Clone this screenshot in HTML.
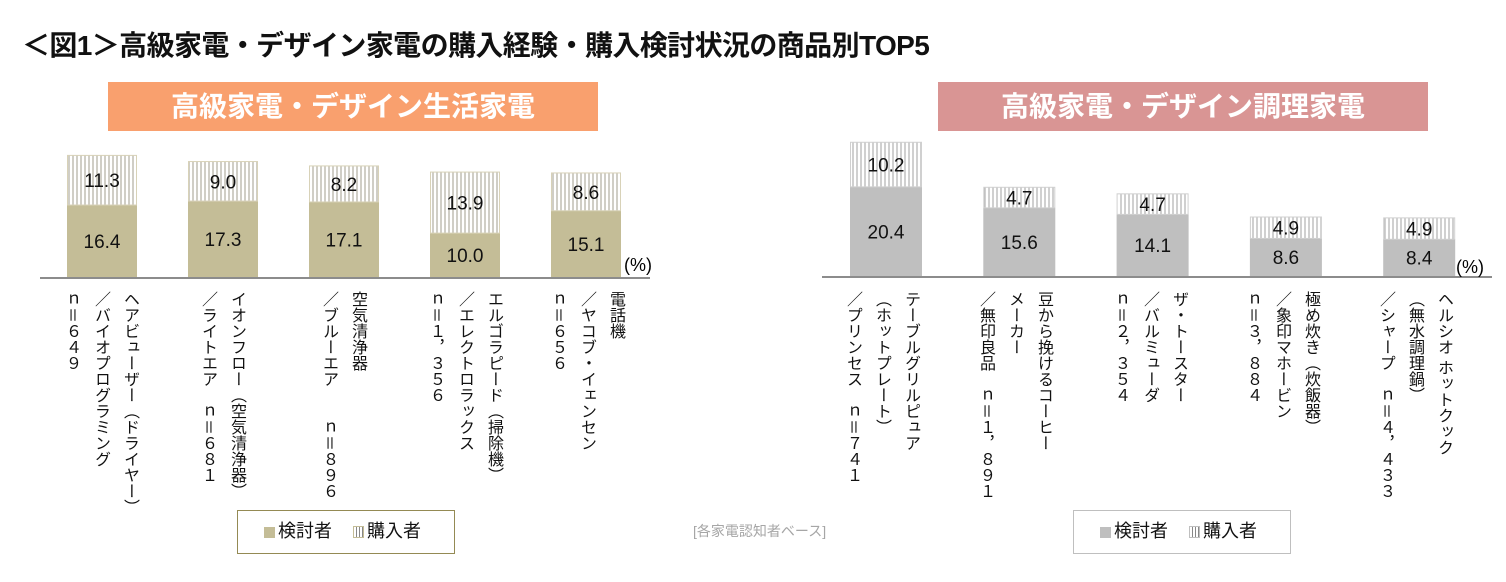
<!DOCTYPE html>
<html><head><meta charset="utf-8">
<style>
body{margin:0;width:1506px;height:582px;background:#fff;position:relative;overflow:hidden;font-family:"Liberation Sans","Noto Sans CJK JP",sans-serif;}
.abs{position:absolute;}
#title{left:22px;top:24px;font-size:28px;font-weight:bold;color:#111;white-space:nowrap;letter-spacing:-0.6px;}
.hdr{top:82px;height:49px;width:490px;color:#fff;font-size:28px;font-weight:bold;text-align:center;line-height:49px;}
.lab{top:291px;writing-mode:vertical-rl;font-size:16px;line-height:29px;color:#111;white-space:nowrap;}
.legend{top:510px;width:216px;height:42px;background:#fff;font-size:18px;line-height:40px;color:#111;}
.sw{display:inline-block;width:11px;height:11px;margin-right:3px;vertical-align:-1px;}
</style></head><body>
<div id="title" class="abs">＜図1＞高級家電・デザイン家電の購入経験・購入検討状況の商品別TOP5</div>
<div class="abs hdr" style="left:108px;background:#F9A06E">高級家電・デザイン生活家電</div>
<div class="abs hdr" style="left:938px;background:#D99594">高級家電・デザイン調理家電</div>

<svg class="abs" style="left:0;top:0" width="1506" height="582">
<defs>
<pattern id="hatchL" width="4" height="4" patternUnits="userSpaceOnUse"><rect width="4" height="4" fill="#fff"/><line x1="1" y1="0" x2="1" y2="4" stroke="#8a8470" stroke-width="0.8"/></pattern>
<pattern id="hatchR" width="4" height="4" patternUnits="userSpaceOnUse"><rect width="4" height="4" fill="#fff"/><line x1="1" y1="0" x2="1" y2="4" stroke="#888" stroke-width="0.8"/></pattern>
</defs>
<g id="gL"></g><g id="gR"></g>
</svg>

<div class="abs" style="left:624px;top:255px;font-size:18px">(%)</div>
<div class="abs" style="left:1456px;top:257px;font-size:18px">(%)</div>

<div class="abs lab" style="left:57px">ヘアビューザー（ドライヤー）<br>／バイオプログラミング<br>ｎ＝６４９</div>
<div class="abs lab" style="left:193px">イオンフロー（空気清浄器）<br>／ライトエア　ｎ＝６８１</div>
<div class="abs lab" style="left:314px">空気清浄器<br>／ブルーエア　　ｎ＝８９６</div>
<div class="abs lab" style="left:421px">エルゴラピード（掃除機）<br>／エレクトロラックス<br>ｎ＝１，３５６</div>
<div class="abs lab" style="left:543px">電話機<br>／ヤコブ・イェンセン<br>ｎ＝６５６</div>

<div class="abs lab" style="left:838px">テーブルグリルピュア<br>（ホットプレート）<br>／プリンセス　ｎ＝７４１</div>
<div class="abs lab" style="left:971px">豆から挽けるコーヒー<br>メーカー<br>／無印良品　ｎ＝１，８９１</div>
<div class="abs lab" style="left:1106px">ザ・トースター<br>／バルミューダ<br>ｎ＝２，３５４</div>
<div class="abs lab" style="left:1238px">極め炊き（炊飯器）<br>／象印マホービン<br>ｎ＝３，８８４</div>
<div class="abs lab" style="left:1371px">ヘルシオ ホットクック<br>（無水調理鍋）<br>／シャープ　ｎ＝４，４３３</div>

<div class="abs legend" style="left:237px;border:1px solid #948A54">
<span style="margin-left:26px"><span class="sw" style="background:#C4BD97"></span>検討者</span>
<span style="margin-left:16px"><span class="sw" style="border:1px solid #C4BD97;width:9px;height:10px;background:repeating-linear-gradient(90deg,#fff 0 2px,#888 2px 3px)"></span>購入者</span>
</div>
<div class="abs legend" style="left:1073px;border:1px solid #BFBFBF">
<span style="margin-left:26px"><span class="sw" style="background:#BFBFBF"></span>検討者</span>
<span style="margin-left:16px"><span class="sw" style="border:1px solid #BFBFBF;width:9px;height:10px;background:repeating-linear-gradient(90deg,#fff 0 2px,#888 2px 3px)"></span>購入者</span>
</div>
<div class="abs" style="left:693px;top:521px;font-size:14px;color:#A6A6A6">[各家電認知者ベース]</div>

<script>
const leftCategories = ["ヘアビューザー","イオンフロー","ブルーエア","エルゴラピード","電話機"];
const leftConsidered = [16.4, 17.3, 17.1, 10.0, 15.1];
const leftPurchased = [11.3, 9.0, 8.2, 13.9, 8.6];
const rightCategories = ["テーブルグリルピュア","コーヒーメーカー","ザ・トースター","極め炊き","ヘルシオ ホットクック"];
const rightConsidered = [20.4, 15.6, 14.1, 8.6, 8.4];
const rightPurchased = [10.2, 4.7, 4.7, 4.9, 4.9];

const NS = "http://www.w3.org/2000/svg";
function mk(tag, attrs, parent){const e=document.createElementNS(NS,tag);for(const k in attrs)e.setAttribute(k,attrs[k]);parent.appendChild(e);return e;}

function drawPanel(g, cats, cons, purch, cfg){
  const y = v => cfg.base - v*cfg.scale;
  const x = i => cfg.x0 + i*cfg.pitch;
  cats.forEach((c,i)=>{
    const cx = x(i), l = cx - cfg.bw/2;
    const r1 = mk('rect',{x:l,y:y(cons[i]),width:cfg.bw,height:cfg.base-y(cons[i]),fill:cfg.solid},g);
    
    
    const top = y(cons[i]+purch[i]);
    const r2 = mk('rect',{x:l+0.5,y:top,width:cfg.bw-1,height:y(cons[i])-top,fill:cfg.hatch,stroke:cfg.edge,'stroke-width':1},g);
    
    
    const t1 = mk('text',{x:cx,y:(y(cons[i])+cfg.base)/2+7,'text-anchor':'middle','font-size':19,fill:'#111'},g);
    t1.textContent = cons[i].toFixed(1);
    
    
    const t2 = mk('text',{x:cx,y:(top+y(cons[i]))/2+7,'text-anchor':'middle','font-size':19,fill:'#111'},g);
    t2.textContent = purch[i].toFixed(1);
    
    
  });
  const ax = mk('line',{x1:cfg.ax1,y1:cfg.base+1,x2:cfg.ax2,y2:cfg.base+1,stroke:'#8c8c8c','stroke-width':2},g);
  
  
}
drawPanel(document.getElementById('gL'), leftCategories, leftConsidered, leftPurchased,
  {base:277, scale:4.39, x0:102, pitch:121, bw:70, solid:'#C4BD97', hatch:'url(#hatchL)', edge:'#D8D2B8', ax1:40, ax2:650});
drawPanel(document.getElementById('gR'), rightCategories, rightConsidered, rightPurchased,
  {base:276, scale:4.37, x0:886, pitch:133.3, bw:72, solid:'#BFBFBF', hatch:'url(#hatchR)', edge:'#D0D0D0', ax1:822, ax2:1492});
</script>
</body></html>
